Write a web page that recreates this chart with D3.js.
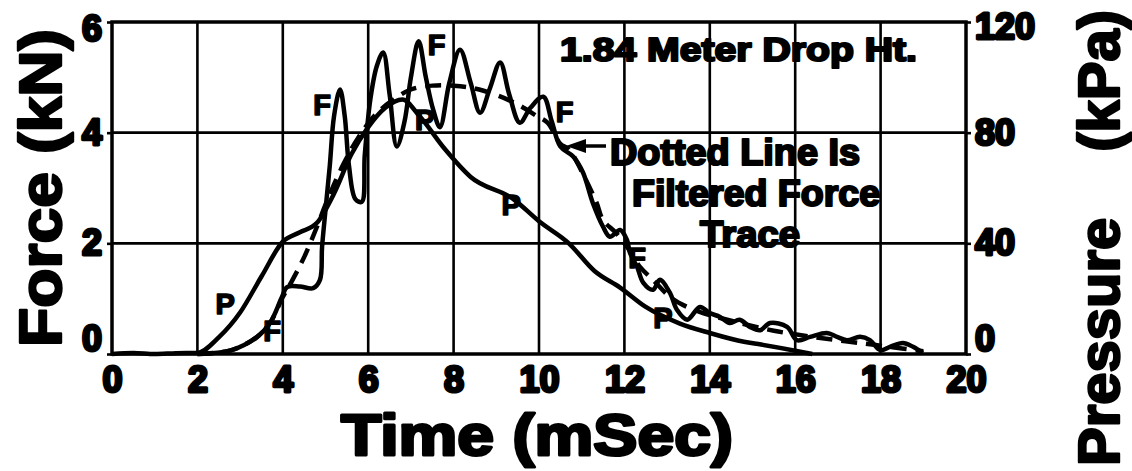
<!DOCTYPE html>
<html>
<head>
<meta charset="utf-8">
<script src="https://cdn.jsdelivr.net/npm/d3@7"></script>
<style>
  body { margin: 0; background: #fff; }
  text { font-family: "Liberation Sans", Arial, sans-serif; font-weight: bold; fill: #000; }
</style>
</head>
<body>
<svg width="1132" height="471"></svg>
<script>
const width = 1132;
const height = 471;

// time axis ticks (mSec)
const timeTicks = [0, 2, 4, 6, 8, 10, 12, 14, 16, 18, 20];
const forceTicks = [0, 2, 4, 6];
const pressureTicks = [0, 40, 80, 120];

// raw force trace (kN)
const forceT = [2.0, 2.8, 3.4, 3.7, 3.98, 4.1, 4.4, 4.71, 4.87, 4.92, 5.0, 5.1, 5.2, 5.34, 5.45, 5.55, 5.7, 5.85, 5.92,
  6.05, 6.2, 6.35, 6.5, 6.67, 6.85, 7.0, 7.18, 7.35, 7.52, 7.68, 7.9, 8.15, 8.4, 8.62, 8.85, 9.09, 9.3, 9.55, 9.8,
  10.1, 10.3, 10.5, 10.8, 11.03, 11.26, 11.5, 11.66, 11.9, 12.06, 12.13, 12.3, 12.44, 12.67, 12.83, 13.07, 13.23,
  13.47, 13.77, 14.0, 14.24, 14.47, 14.7, 14.94, 15.18, 15.41, 15.81, 16.04, 16.35, 16.74, 16.98, 17.21, 17.52,
  17.75, 17.99, 18.22, 18.52, 18.76, 18.99];
const forceV = [0, 0.07, 0.31, 0.56, 1.03, 1.21, 1.22, 1.19, 1.34, 1.94, 2.6, 3.4, 4.3, 4.78, 4.3, 3.4, 2.8, 2.75, 3.6,
  4.6, 5.2, 5.45, 4.7, 3.75, 4.2, 5.0, 5.65, 5.0, 4.42, 4.1, 4.9, 5.5, 4.9, 4.36, 4.8, 5.27, 4.7, 4.18, 4.45,
  4.65, 4.2, 3.75, 3.57, 3.28, 2.73, 2.3, 2.12, 2.24, 2.06, 1.83, 1.57, 1.29, 1.16, 1.34, 1.1, 0.8,
  0.62, 0.85, 0.74, 0.67, 0.56, 0.62, 0.49, 0.43, 0.56, 0.49, 0.25, 0.31, 0.38, 0.31, 0.25, 0.31,
  0.25, 0.07, 0.13, 0.2, 0.13, 0.02];

// filtered force trace (kN)
const filteredT = [2.0, 2.8, 3.4, 3.7, 4.0, 4.2, 4.5, 4.8, 5.0, 5.4, 5.8, 6.2, 6.6, 7.0, 7.5, 8.0, 8.6, 9.4, 9.95,
  10.2, 10.5, 10.7, 11.0, 11.35, 11.5, 11.8, 12.06, 12.37, 12.67, 13.07, 13.47, 13.84, 14.5, 15.5, 16.5, 17.5, 18.5, 19.0];
const filteredV = [0, 0.07, 0.31, 0.56, 1.03, 1.3, 1.75, 2.3, 2.7, 3.4, 3.95, 4.35, 4.6, 4.78, 4.85, 4.85, 4.78, 4.55, 4.3,
  4.18, 3.8, 3.7, 3.3, 2.73, 2.42, 2.19, 1.94, 1.57, 1.34, 1.03, 0.85, 0.74, 0.6, 0.42, 0.3, 0.2, 0.1, 0.05];

// pressure trace (kPa)
const pressureT = [0, 0.5, 1, 1.5, 2, 2.5, 3, 3.5, 4, 4.4, 4.8, 5.2, 5.6, 6, 6.4, 6.8, 7.2, 7.8, 8.4, 9.4, 10, 10.7,
  11.3, 11.9, 12.5, 13.3, 14, 14.8, 15.2, 16, 16.4];
const pressureV = [0, 0.4, 0, 0.3, 0.4, 6, 15, 28, 40.6, 44, 47.4, 58, 72, 82, 89, 92, 86, 74, 64, 56, 48, 40,
  30, 24, 17, 11, 7.6, 4.4, 3.4, 1.2, 0];

// curve labels (centre of letter, in mSec / kN)
const labelText = ["F", "F", "P", "F", "P", "F", "P", "P", "F"];
const labelT = [4.92, 7.6, 7.32, 10.6, 9.35, 12.3, 12.9, 2.65, 3.75];
const labelF = [4.5, 5.6, 4.24, 4.38, 2.7, 1.74, 0.65, 0.92, 0.43];

// note text
const noteTitle = "1.84 Meter Drop Ht.";
const noteLines = ["Dotted Line Is", "Filtered Force", "Trace"];

const svg = d3.select("svg");

const x = d3.scaleLinear().domain([0, 20]).range([112, 966]);
const yF = d3.scaleLinear().domain([0, 6]).range([354, 22]);
const yP = d3.scaleLinear().domain([0, 120]).range([354, 22]);

const heavy = (sel, w) => sel.attr("stroke", "#000").attr("stroke-width", w || 1.6)
  .attr("stroke-linejoin", "round").attr("paint-order", "stroke");

// grid
const grid = svg.append("g").attr("stroke", "#000").attr("stroke-width", 2.6);
grid.selectAll(".gx")
  .data(timeTicks.slice(1, -1))
  .join("line")
  .attr("x1", d => x(d)).attr("x2", d => x(d))
  .attr("y1", yF(0)).attr("y2", yF(6));
grid.selectAll(".gy")
  .data(forceTicks.slice(1, -1))
  .join("line")
  .attr("x1", x(0)).attr("x2", x(20))
  .attr("y1", d => yF(d)).attr("y2", d => yF(d));

// annotation text
svg.append("text")
  .attr("x", 560).attr("y", 61)
  .attr("font-size", 33)
  .attr("textLength", 357).attr("lengthAdjust", "spacingAndGlyphs")
  .text(noteTitle)
  .call(heavy, 2.2);

const noteX = [610, 632, 700];
const noteW = [250, 248, 100];
svg.append("g").selectAll("text")
  .data(noteLines)
  .join("text")
  .attr("x", (d, i) => noteX[i])
  .attr("y", (d, i) => 165 + i * 41)
  .attr("font-size", 36)
  .attr("textLength", (d, i) => noteW[i]).attr("lengthAdjust", "spacingAndGlyphs")
  .text(d => d)
  .call(heavy, 2.2);

// arrow to filtered trace
svg.append("line")
  .attr("x1", 606).attr("y1", 146)
  .attr("x2", 580).attr("y2", 146)
  .attr("stroke", "#000").attr("stroke-width", 3.5);
svg.append("path")
  .attr("d", "M566,146 L586,139 L586,153 Z")
  .attr("fill", "#000");

// traces
const lineF = d3.line().x((d, i) => x(forceT[i])).y(d => yF(d)).curve(d3.curveCatmullRom.alpha(0.5));
const lineFilt = d3.line().x((d, i) => x(filteredT[i])).y(d => yF(d)).curve(d3.curveCatmullRom.alpha(0.5));
const lineP = d3.line().x((d, i) => x(pressureT[i])).y(d => yP(d)).curve(d3.curveMonotoneX);

svg.append("path").datum(pressureV)
  .attr("d", lineP).attr("fill", "none").attr("stroke", "#000").attr("stroke-width", 4.5);
svg.append("path").datum(filteredV)
  .attr("d", lineFilt).attr("fill", "none").attr("stroke", "#000").attr("stroke-width", 4.5)
  .attr("stroke-dasharray", "16,9");
svg.append("path").datum(forceV)
  .attr("d", lineF).attr("fill", "none").attr("stroke", "#000").attr("stroke-width", 4.5)
  .attr("stroke-linejoin", "round");

// frame
svg.append("rect")
  .attr("x", x(0)).attr("y", yF(6))
  .attr("width", x(20) - x(0)).attr("height", yF(0) - yF(6))
  .attr("fill", "none").attr("stroke", "#000").attr("stroke-width", 3.5);

// axes
const xAxis = svg.append("g")
  .attr("transform", `translate(0,${yF(0)})`)
  .call(d3.axisBottom(x).tickValues(timeTicks).tickSize(0).tickPadding(12).tickFormat(d3.format("d")));
xAxis.select(".domain").remove();

const leftAxis = svg.append("g")
  .attr("transform", `translate(${x(0)},0)`)
  .call(d3.axisLeft(yF).tickValues(forceTicks).tickSize(5).tickPadding(5).tickFormat(d3.format("d")));
leftAxis.select(".domain").remove();

const rightAxis = svg.append("g")
  .attr("transform", `translate(${x(20)},0)`)
  .call(d3.axisRight(yP).tickValues(pressureTicks).tickSize(5).tickPadding(4).tickFormat(d3.format("d")));
rightAxis.select(".domain").remove();

svg.selectAll(".tick line").attr("stroke-width", 2.6);
svg.selectAll(".tick text")
  .attr("font-family", "Liberation Sans").attr("font-weight", "bold")
  .attr("font-size", 36).attr("fill", "#000")
  .call(heavy, 3);

// nudge the end labels of the vertical axes like the original print
leftAxis.selectAll(".tick text").attr("dy", (d, i) => i === 0 ? "-0.1em" : i === 3 ? "0.5em" : "0.32em");
rightAxis.selectAll(".tick text").attr("dy", (d, i) => i === 0 ? "-0.1em" : i === 3 ? "0.45em" : "0.32em");

// axis titles
svg.append("text")
  .attr("transform", `translate(61,${(yF(0) + yF(6)) / 2}) rotate(-90)`)
  .attr("text-anchor", "middle")
  .attr("font-size", 60)
  .attr("textLength", 318).attr("lengthAdjust", "spacingAndGlyphs")
  .text("Force (kN)")
  .call(heavy, 2.4);

svg.append("text")
  .attr("x", 537).attr("y", 455)
  .attr("text-anchor", "middle")
  .attr("font-size", 58)
  .attr("textLength", 392).attr("lengthAdjust", "spacingAndGlyphs")
  .text("Time (mSec)")
  .call(heavy, 3);

const pTitle = svg.append("text")
  .attr("transform", "translate(1119,466) rotate(-90)")
  .attr("text-anchor", "start")
  .attr("font-size", 58)
  .call(heavy, 2.4);
pTitle.append("tspan").text("Pressure");
pTitle.append("tspan").attr("dx", 66).text("(kPa)");

svg.append("g").selectAll("text")
  .data(labelText)
  .join("text")
  .attr("x", (d, i) => x(labelT[i]))
  .attr("y", (d, i) => yF(labelF[i]))
  .attr("dy", "0.36em")
  .attr("text-anchor", "middle")
  .attr("font-size", 29)
  .text(d => d)
  .call(heavy, 1.6);
</script>
</body>
</html>
